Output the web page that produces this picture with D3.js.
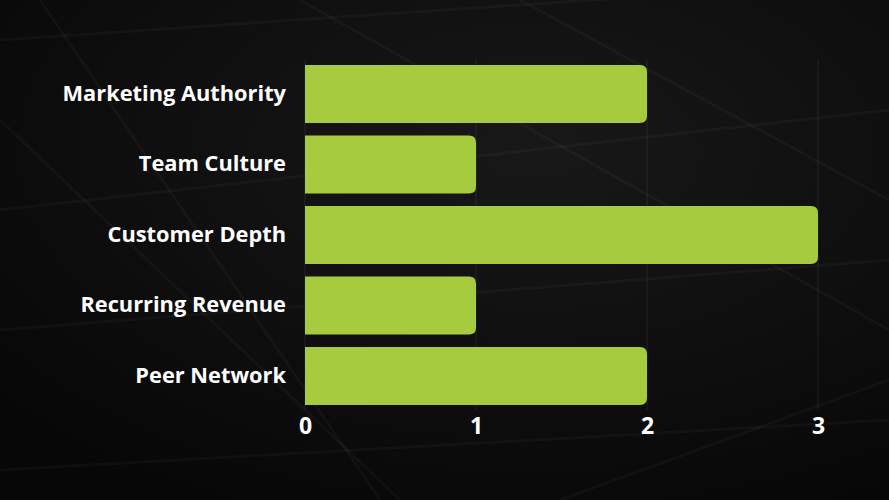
<!DOCTYPE html>
<html>
<head>
<meta charset="utf-8">
<script src="https://cdn.jsdelivr.net/npm/d3@7/dist/d3.min.js"></script>
<style>
  html, body { margin: 0; padding: 0; background: #0b0b0b; }
  svg { display: block; }
  text { font-family: "Open Sans", "Lato", sans-serif; font-weight: 700; fill: #ffffff; }
</style>
</head>
<body>
<svg id="chart" width="889" height="500"></svg>
<script>
const categories = ["Marketing Authority", "Team Culture", "Customer Depth", "Recurring Revenue", "Peer Network"];
const values = [2, 1, 3, 1, 2];
const tickValues = [0, 1, 2, 3];

const W = 889, H = 500;
const svg = d3.select("#chart");

// background
const defs = svg.append("defs");
const rg = defs.append("radialGradient").attr("id", "bg").attr("cx", "0.6").attr("cy", "0.3").attr("r", "0.8");
rg.append("stop").attr("offset", "0%").attr("stop-color", "#181818");
rg.append("stop").attr("offset", "100%").attr("stop-color", "#070707");
svg.append("rect").attr("width", W).attr("height", H).attr("fill", "url(#bg)");

// faint decorative panel lines
const deco = svg.append("g").attr("stroke", "#ffffff").attr("stroke-opacity", 0.03).attr("stroke-width", 3).attr("fill", "none");
[[0,40,889,-20],[0,210,889,110],[0,330,889,260],[0,470,889,420],[40,0,380,500],[300,0,889,330],[520,0,889,200],[0,120,400,500],[560,500,889,380]]
  .forEach(d => deco.append("line").attr("x1", d[0]).attr("y1", d[1]).attr("x2", d[2]).attr("y2", d[3]));

const x = d3.scaleLinear().domain([0, 3]).range([305, 818]);
const y = d3.scaleBand().domain(categories).range([65, 405]).paddingInner(0.177).paddingOuter(0);

// gridlines
svg.append("g").selectAll("line").data(tickValues).join("line")
  .attr("x1", d => x(d)).attr("x2", d => x(d))
  .attr("y1", 60).attr("y2", 410)
  .attr("stroke", "#ffffff").attr("stroke-opacity", 0.08).attr("stroke-width", 1);

// bars with right-rounded corners
const r = 7;
svg.append("g").selectAll("path").data(categories).join("path")
  .attr("fill", "#a7cb3f")
  .attr("d", (c, i) => {
    const x0 = x(0), x1 = x(values[i]), y0 = y(c), h = y.bandwidth();
    return `M${x0},${y0}H${x1 - r}Q${x1},${y0} ${x1},${y0 + r}V${y0 + h - r}Q${x1},${y0 + h} ${x1 - r},${y0 + h}H${x0}Z`;
  });

// y axis labels
const yAxis = d3.axisLeft(y).tickSize(0).tickPadding(19);
const yg = svg.append("g").attr("transform", `translate(${x(0)},0)`).call(yAxis);
yg.select(".domain").remove();
yg.selectAll("text").attr("font-size", 21.8).attr("fill", "#fff").style("font-family", "'Open Sans', Lato, sans-serif").style("font-weight", 700);

// x axis labels
const xAxis = d3.axisBottom(x).tickValues(tickValues).tickFormat(d3.format("d")).tickSize(0).tickPadding(13);
const xg = svg.append("g").attr("transform", `translate(0,405)`).call(xAxis);
xg.select(".domain").remove();
xg.selectAll("text").attr("font-size", 23).attr("fill", "#fff").style("font-family", "'Open Sans', Lato, sans-serif").style("font-weight", 700);
</script>
</body>
</html>
